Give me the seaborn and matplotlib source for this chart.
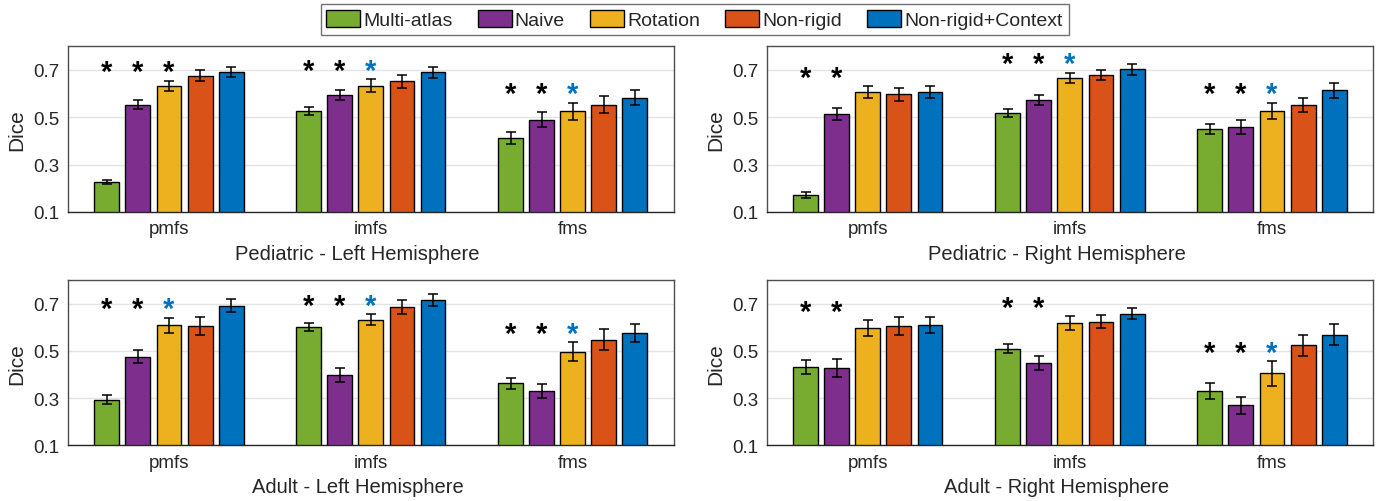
import numpy as np
import pandas as pd
import matplotlib
matplotlib.use("Agg")
import matplotlib.pyplot as plt
from matplotlib.patches import Patch
import seaborn as sns

methods = ["Multi-atlas", "Naive", "Rotation", "Non-rigid", "Non-rigid+Context"]
structures = ["pmfs", "imfs", "fms"]
colors = ["#77AC30", "#7E2F8E", "#EDB120", "#D95319", "#0072BD"]

panel_titles = ["Pediatric - Left Hemisphere", "Pediatric - Right Hemisphere",
                "Adult - Left Hemisphere", "Adult - Right Hemisphere"]

# mean Dice per structure (rows: pmfs, imfs, fms; cols: methods)
ped_left_mean = [[0.226, 0.553, 0.633, 0.676, 0.692],
                 [0.525, 0.594, 0.633, 0.652, 0.689],
                 [0.412, 0.490, 0.525, 0.553, 0.583]]
ped_left_err = [[0.010, 0.018, 0.021, 0.022, 0.021],
                [0.017, 0.020, 0.027, 0.027, 0.024],
                [0.027, 0.033, 0.037, 0.035, 0.033]]
ped_right_mean = [[0.171, 0.512, 0.607, 0.597, 0.607],
                  [0.517, 0.572, 0.667, 0.678, 0.703],
                  [0.449, 0.459, 0.527, 0.552, 0.614]]
ped_right_err = [[0.012, 0.025, 0.024, 0.028, 0.026],
                 [0.017, 0.022, 0.021, 0.021, 0.023],
                 [0.021, 0.031, 0.034, 0.031, 0.031]]
adult_left_mean = [[0.294, 0.476, 0.608, 0.606, 0.692],
                   [0.601, 0.398, 0.632, 0.687, 0.717],
                   [0.362, 0.330, 0.496, 0.548, 0.576]]
adult_left_err = [[0.018, 0.026, 0.032, 0.037, 0.029],
                  [0.018, 0.030, 0.024, 0.030, 0.025],
                  [0.025, 0.030, 0.040, 0.043, 0.039]]
adult_right_mean = [[0.432, 0.427, 0.597, 0.607, 0.610],
                    [0.510, 0.449, 0.617, 0.624, 0.658],
                    [0.331, 0.269, 0.405, 0.523, 0.569]]
adult_right_err = [[0.028, 0.038, 0.034, 0.038, 0.033],
                   [0.020, 0.028, 0.030, 0.028, 0.024],
                   [0.034, 0.035, 0.052, 0.045, 0.046]]

# significance markers over first three methods: 0 none, 1 black star, 2 blue star
ped_left_sig = [[1, 1, 1], [1, 1, 2], [1, 1, 2]]
ped_right_sig = [[1, 1, 0], [1, 1, 2], [1, 1, 2]]
adult_left_sig = [[1, 1, 2], [1, 1, 2], [1, 1, 2]]
adult_right_sig = [[1, 1, 0], [1, 1, 0], [1, 1, 2]]

panels = [(ped_left_mean, ped_left_err, ped_left_sig),
          (ped_right_mean, ped_right_err, ped_right_sig),
          (adult_left_mean, adult_left_err, adult_left_sig),
          (adult_right_mean, adult_right_err, adult_right_sig)]

sns.set_theme(style="white")
plt.rcParams["font.family"] = ["Liberation Sans", "DejaVu Sans"]

fig = plt.figure(figsize=(13.89, 5.02), dpi=100)
positions = [[0.049, 0.576, 0.436, 0.330], [0.552, 0.576, 0.4365, 0.330],
             [0.049, 0.111, 0.436, 0.329], [0.552, 0.111, 0.4365, 0.329]]

star_colors = {1: "black", 2: "#0072BD"}

for k, (means, errs, sig) in enumerate(panels):
    ax = fig.add_axes(positions[k])
    rows = []
    for i, s in enumerate(structures):
        for j, m in enumerate(methods):
            rows.append({"structure": s, "method": m, "dice": means[i][j], "err": errs[i][j]})
    df = pd.DataFrame(rows)
    sns.barplot(data=df, x="structure", y="dice", hue="method", order=structures,
                hue_order=methods, palette=colors, width=0.77, gap=0.2,
                errorbar=None, edgecolor="black", linewidth=1.0, saturation=1,
                legend=False, ax=ax, zorder=2)
    bar_containers = list(ax.containers)
    centers = [[bar.get_x() + bar.get_width() / 2 for bar in cont] for cont in bar_containers]
    for j in range(len(methods)):
        for i in range(len(structures)):
            ax.errorbar(centers[j][i], means[i][j], yerr=errs[i][j], color="black",
                        capsize=3.5, elinewidth=1.1, capthick=1.1, zorder=3)
    # stars
    for i in range(len(structures)):
        top = max(means[i][j] + errs[i][j] for j in range(3))
        for j in range(3):
            if sig[i][j]:
                ax.text(centers[j][i], top + 0.036, "*", ha="center", va="center",
                        fontsize=21, fontweight="bold", color=star_colors[sig[i][j]])
    ax.set_ylim(0.1, 0.8)
    ax.set_xlim(-0.5, 2.5)
    ax.set_yticks([0.1, 0.3, 0.5, 0.7])
    ax.set_yticklabels(["0.1", "0.3", "0.5", "0.7"])
    ax.yaxis.grid(True, color="#e3e3e3", linewidth=1.0, zorder=0)
    ax.set_axisbelow(True)
    ax.tick_params(axis="both", labelsize=13.5, colors="#262626", length=0, pad=6)
    ax.set_ylabel("Dice", fontsize=15, color="#262626", labelpad=5)
    ax.set_xlabel(panel_titles[k], fontsize=14.5, color="#262626", labelpad=5)
    ax.xaxis.set_label_coords(0.478, -0.195)
    for sp in ax.spines.values():
        sp.set_color("#4d4d4d")
        sp.set_linewidth(1.0)
    ax.spines["bottom"].set_color("#262626")

handles = [Patch(facecolor=c, edgecolor="black", linewidth=1.0, label=m)
           for c, m in zip(colors, methods)]
leg = fig.legend(handles=handles, loc="upper center", bbox_to_anchor=(0.5, 0.99),
                 ncol=5, fontsize=14, frameon=True, fancybox=False,
                 handlelength=1.75, handleheight=1.0, handletextpad=0.15,
                 columnspacing=1.3, borderpad=0.3, borderaxespad=0)
leg.get_frame().set_edgecolor("#4d4d4d")
leg.get_frame().set_linewidth(1.0)

fig.savefig("out.png", dpi=100)
